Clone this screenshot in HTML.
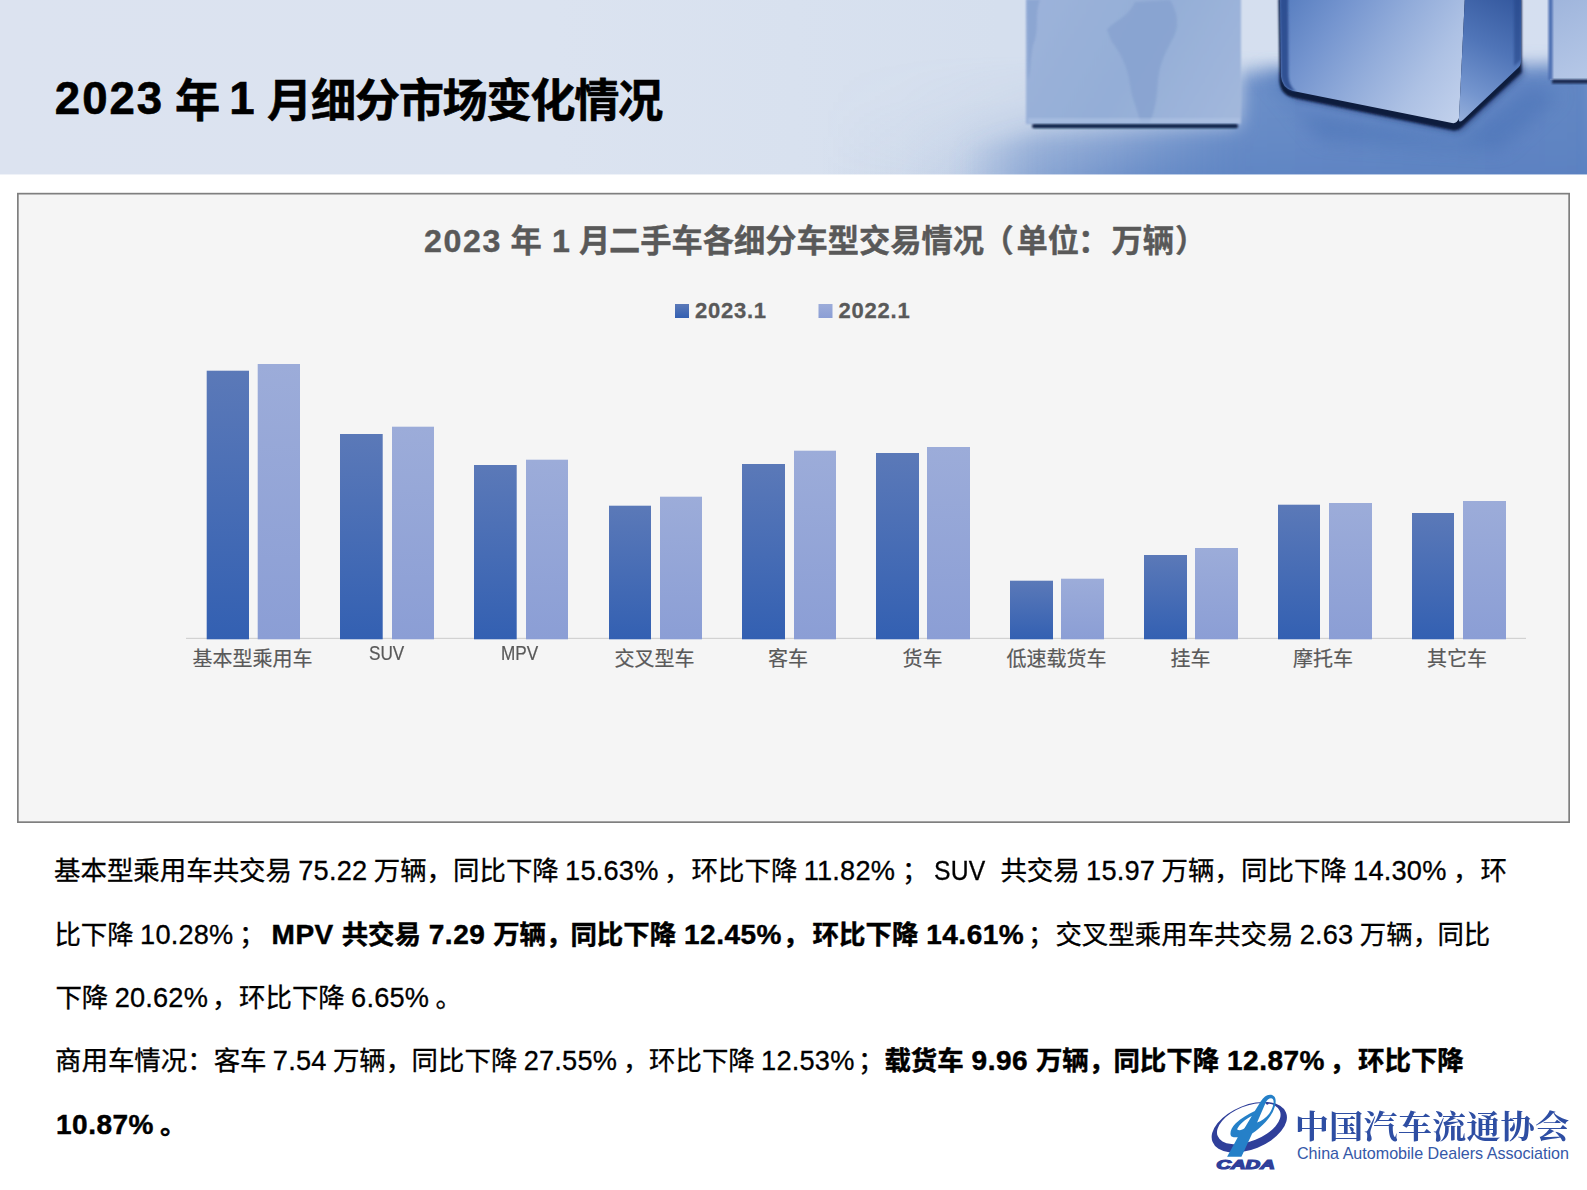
<!DOCTYPE html>
<html lang="zh-CN">
<head>
<meta charset="utf-8">
<title>2023 年 1 月细分市场变化情况</title>
<style>
html,body{margin:0;padding:0;}
body{width:1587px;height:1190px;position:relative;overflow:hidden;background:#fff;
  font-family:"Liberation Sans","Noto Sans CJK SC",sans-serif;color:#000;}
#hdr{position:absolute;left:0;top:0;width:1587px;height:175px;overflow:hidden;}
#hdr svg{position:absolute;left:0;top:0;}
#csvg{position:absolute;left:0;top:0;}
.s{position:absolute;white-space:pre;margin:0;padding:0;}
.t{font-size:45.2px;letter-spacing:-1.3px;line-height:64px;font-weight:700;color:#000;-webkit-text-stroke:.6px #000;}
.tn{font-size:45.6px;letter-spacing:2px;}
.ct{font-size:31.25px;line-height:48px;font-weight:700;color:#595959;-webkit-text-stroke:.4px #595959;}
.cn{font-size:32.2px;letter-spacing:1.6px;}
.lg{font-size:22px;line-height:26px;font-weight:700;color:#595959;letter-spacing:.75px;-webkit-text-stroke:.3px #595959;}
.c{font-size:20px;line-height:30px;color:#595959;-webkit-text-stroke:.2px #595959;}
.c.lat{font-size:19.5px;transform:scaleX(.88);transform-origin:0 50%;}
.p{font-size:26.45px;line-height:40px;height:40px;color:#000;word-spacing:-1px;-webkit-text-stroke:.3px #000;}
.p .n{font-size:27.2px;letter-spacing:.2px;}
.p .sq{display:inline-block;transform:scaleX(.91);transform-origin:0 50%;}
.b{font-weight:700;}
.p.b{word-spacing:.5px;-webkit-text-stroke:.45px #000;}
.p.b .n{font-size:28px;letter-spacing:.5px;}
.lcn{font-family:"Liberation Serif","Noto Serif CJK SC",serif;font-weight:700;font-size:34.3px;letter-spacing:0;line-height:50px;color:#2e4ea3;transform:scaleY(.915);transform-origin:0 0;}
.len{font-size:16.1px;line-height:24px;color:#3558a8;}
</style>
</head>
<body>
<div id="hdr"><svg width="1587" height="175" viewBox="0 0 1587 175">
<defs>
  <linearGradient id="gbase" x1="0" y1="0" x2="1587" y2="0" gradientUnits="userSpaceOnUse">
    <stop offset="0" stop-color="#dce3f0"/>
    <stop offset="0.35" stop-color="#dbe3f0"/>
    <stop offset="0.5" stop-color="#d8e1ef"/>
    <stop offset="0.63" stop-color="#d5dfee"/>
    <stop offset="1" stop-color="#d5dff0"/>
  </linearGradient>
  <linearGradient id="gfloorh" x1="820" y1="0" x2="1587" y2="0" gradientUnits="userSpaceOnUse">
    <stop offset="0" stop-color="#6388c5" stop-opacity="0"/>
    <stop offset="0.104" stop-color="#6388c5" stop-opacity="0.06"/>
    <stop offset="0.17" stop-color="#6388c5" stop-opacity="0.15"/>
    <stop offset="0.235" stop-color="#6388c5" stop-opacity="0.30"/>
    <stop offset="0.31" stop-color="#6388c5" stop-opacity="0.5"/>
    <stop offset="0.40" stop-color="#6287c5" stop-opacity="0.75"/>
    <stop offset="0.56" stop-color="#5f85c3" stop-opacity="1"/>
    <stop offset="1" stop-color="#5a80c0" stop-opacity="1"/>
  </linearGradient>
  <linearGradient id="gfloorv" x1="0" y1="55" x2="0" y2="175" gradientUnits="userSpaceOnUse">
    <stop offset="0" stop-color="#fff" stop-opacity="0"/>
    <stop offset="0.375" stop-color="#fff" stop-opacity="0.15"/>
    <stop offset="0.71" stop-color="#fff" stop-opacity="0.53"/>
    <stop offset="1" stop-color="#fff" stop-opacity="1"/>
  </linearGradient>
  <mask id="mfloor"><rect x="0" y="0" width="1587" height="175" fill="url(#gfloorv)"/></mask>
  <linearGradient id="gc1" x1="1026" y1="0" x2="1241" y2="124" gradientUnits="userSpaceOnUse">
    <stop offset="0" stop-color="#9db3da"/>
    <stop offset="0.5" stop-color="#94aed7"/>
    <stop offset="1" stop-color="#a3b8dc"/>
  </linearGradient>
  <linearGradient id="gc2l" x1="1285" y1="0" x2="1460" y2="120" gradientUnits="userSpaceOnUse">
    <stop offset="0" stop-color="#587ec0"/>
    <stop offset="0.25" stop-color="#7595cf"/>
    <stop offset="0.5" stop-color="#92acda"/>
    <stop offset="0.75" stop-color="#adc1e4"/>
    <stop offset="1" stop-color="#c2d1ec"/>
  </linearGradient>
  <linearGradient id="gc2r" x1="1521" y1="0" x2="1458" y2="125" gradientUnits="userSpaceOnUse">
    <stop offset="0" stop-color="#34589e"/>
    <stop offset="0.4" stop-color="#5075b8"/>
    <stop offset="0.75" stop-color="#7495ce"/>
    <stop offset="1" stop-color="#9ab3dd"/>
  </linearGradient>
  <linearGradient id="gfloorB" x1="960" y1="0" x2="1587" y2="0" gradientUnits="userSpaceOnUse">
    <stop offset="0" stop-color="#6388c5" stop-opacity="0"/>
    <stop offset="0.12" stop-color="#6388c5" stop-opacity="0.36"/>
    <stop offset="0.25" stop-color="#6388c5" stop-opacity="0.48"/>
    <stop offset="0.447" stop-color="#6086c4" stop-opacity="0.9"/>
    <stop offset="1" stop-color="#5b81c1" stop-opacity="0.95"/>
  </linearGradient>
  <linearGradient id="gc3" x1="1550" y1="0" x2="1587" y2="80" gradientUnits="userSpaceOnUse">
    <stop offset="0" stop-color="#9fb5dc"/><stop offset="1" stop-color="#b6c8e7"/>
  </linearGradient>
  <filter id="b2" x="-20%" y="-20%" width="140%" height="140%"><feGaussianBlur stdDeviation="1.2"/></filter>
  <filter id="b4" x="-20%" y="-20%" width="140%" height="140%"><feGaussianBlur stdDeviation="3"/></filter>
  <filter id="b10" x="-30%" y="-30%" width="160%" height="160%"><feGaussianBlur stdDeviation="9"/></filter>
</defs>
<rect width="1587" height="175" fill="url(#gbase)"/>
<rect x="820" y="0" width="767" height="175" fill="url(#gfloorh)" mask="url(#mfloor)"/>
<!-- soft shadows on floor -->
<path d="M950 150 L1035 134 L1241 128 L1241 72 L1600 64 L1600 190 L950 190 Z" fill="url(#gfloorB)" filter="url(#b10)"/>
<path d="M1262 70 L1285 70 L1300 110 L1460 140 L1530 85 L1560 95 L1500 150 L1320 140 Z" fill="#4a72b6" opacity="0.55" filter="url(#b10)"/>
<!-- cube 1 -->
<rect x="1026" y="-5" width="215" height="129" fill="url(#gc1)" filter="url(#b2)"/>
<path d="M1107 30 C1112 22 1128 18 1135 2 L1170 0 C1178 12 1180 28 1172 40 C1166 52 1160 62 1158 80 C1157 95 1156 108 1150 122 L1140 122 C1138 110 1132 100 1130 85 C1128 65 1118 50 1112 42 Z" fill="#86a1cf" opacity="0.75" filter="url(#b2)"/>
<path d="M1027 0 L1040 0 C1034 15 1040 30 1033 45 C1030 60 1031 70 1028 80 Z" fill="#86a1cf" opacity="0.7" filter="url(#b2)"/>
<rect x="1032" y="124" width="206" height="4.200" rx="2" fill="#0f2148" filter="url(#b2)"/>
<rect x="1028" y="118" width="212" height="5" fill="#b4c7e7" opacity="0.5" filter="url(#b2)"/>
<!-- cube 2 -->
<path d="M1281 70 L1283 88 L1296 99 L1452 131 Q1458 133 1464 128 L1523 74 L1521 60 L1458 118 L1300 88 Z" fill="#1a336c" opacity="0.65" filter="url(#b4)"/>
<path d="M1279 -5 L1280 78 Q1281 91 1293 94 L1452 126.5 Q1458 128 1463 123 L1522 69 L1522 -5 Z" fill="#0c1a3e" filter="url(#b2)" transform="translate(-0.5,3.6)"/>
<path d="M1280 -5 L1281 76 Q1282 88 1293 91 L1452 123 Q1457 124 1459 118 L1465 -5 Z" fill="url(#gc2l)"/>
<path d="M1465 -5 L1459 118 Q1458 124 1463 120 L1519 67 Q1521 65 1521 60 L1521 -5 Z" fill="url(#gc2r)"/>
<path d="M1280 -5 L1281 76 Q1282 88 1293 91 L1296 91.6 Q1289 86 1288.500 76 L1288 -5 Z" fill="#27468a" opacity="0.85" filter="url(#b2)"/>
<path d="M1514 -5 L1514 66 L1521 60 L1521 -5 Z" fill="#27468a" opacity="0.6" filter="url(#b2)"/>
<!-- cube 3 -->
<rect x="1550" y="-5" width="40" height="85" fill="url(#gc3)"/>
<rect x="1552" y="79.5" width="40" height="4" fill="#13254c" filter="url(#b2)"/>
<rect x="1548.500" y="-5" width="4" height="85" fill="#4a6db0" filter="url(#b2)"/>
<rect x="0" y="174.450" width="1587" height="1" fill="#fff"/>
</svg>
</div>
<svg id="csvg" width="1587" height="1190" viewBox="0 0 1587 1190">
<defs><linearGradient id="gd" x1="0" y1="0" x2="0" y2="1"><stop offset="0" stop-color="#5b79b8"/><stop offset="1" stop-color="#3360b2"/></linearGradient>
<linearGradient id="gl" x1="0" y1="0" x2="0" y2="1"><stop offset="0" stop-color="#9cacd9"/><stop offset="1" stop-color="#8b9ed5"/></linearGradient></defs>
<rect x="17.85" y="193.65" width="1551.3" height="628.5" fill="#f5f5f5" stroke="#7f7f7f" stroke-width="1.7"/>
<rect x="186" y="637.8" width="1340" height="1.2" fill="#d2d2d2"/>
<rect x="206.7" y="370.7" width="42.3" height="268.6" fill="url(#gd)"/>
<rect x="257.7" y="364" width="42.3" height="275.3" fill="url(#gl)"/>
<rect x="340" y="434" width="42.7" height="205.3" fill="url(#gd)"/>
<rect x="392" y="426.7" width="42.0" height="212.6" fill="url(#gl)"/>
<rect x="474" y="465" width="42.7" height="174.3" fill="url(#gd)"/>
<rect x="526" y="459.7" width="42.0" height="179.6" fill="url(#gl)"/>
<rect x="609" y="505.7" width="42.0" height="133.6" fill="url(#gd)"/>
<rect x="660" y="496.7" width="42.0" height="142.6" fill="url(#gl)"/>
<rect x="742" y="464" width="43.0" height="175.3" fill="url(#gd)"/>
<rect x="794" y="450.7" width="42.0" height="188.6" fill="url(#gl)"/>
<rect x="876" y="453" width="43.0" height="186.3" fill="url(#gd)"/>
<rect x="927" y="447" width="43.0" height="192.3" fill="url(#gl)"/>
<rect x="1010" y="580.7" width="43.0" height="58.6" fill="url(#gd)"/>
<rect x="1061" y="578.7" width="43.0" height="60.6" fill="url(#gl)"/>
<rect x="1144" y="555" width="43.0" height="84.3" fill="url(#gd)"/>
<rect x="1195" y="548" width="43.0" height="91.3" fill="url(#gl)"/>
<rect x="1278" y="504.7" width="42.0" height="134.6" fill="url(#gd)"/>
<rect x="1329" y="503" width="43.0" height="136.3" fill="url(#gl)"/>
<rect x="1412" y="513" width="42.0" height="126.3" fill="url(#gd)"/>
<rect x="1463" y="501" width="43.0" height="138.3" fill="url(#gl)"/>
<rect x="675" y="304" width="14" height="14" fill="url(#gd)"/>
<rect x="818.5" y="304" width="14" height="14" fill="url(#gl)"/>
</svg>
<svg id="logo" width="100" height="95" viewBox="0 0 1322.5 1256.4" style="position:absolute;left:1200px;top:1085px">
<g>
  <!-- ring: outer ellipse minus inner ellipse -->
  <path fill="#2f3f9a" fill-rule="evenodd" d="
    M 167.1 753.9 A 523 289 -22 1 1 1136.9 362.1 A 523 289 -22 1 1 167.1 753.9 Z
    M 234.3 676.0 A 443 230 -22 1 1 1055.7 344.0 A 443 230 -22 1 1 234.3 676.0 Z"/>
  <!-- light blue phi shape -->
  <path fill="#2580c8" fill-rule="evenodd" d="
    M 358 948 L 548 950 L 690 640
    C 800 570 900 470 960 360
    C 1000 280 1015 200 985 155
    C 965 128 925 122 890 135
    C 850 150 810 200 770 270
    L 725 345
    C 640 385 540 440 470 510
    C 420 560 395 620 405 660
    C 412 690 450 695 500 690 Z
    M 755 495 L 868 235
    C 885 195 935 160 962 185
    C 990 215 965 310 915 380
    C 870 440 810 478 755 495 Z
    M 490 585 C 520 520 600 450 685 410
    L 590 570 C 560 600 510 610 490 585 Z"/>
  <circle cx="890" cy="243" r="18" fill="#2f3f9a"/>
</g>
<text x="215" y="1117" font-family="'Liberation Sans',sans-serif" font-weight="700" font-style="italic" font-size="172" fill="#2f3f9a" textLength="775" lengthAdjust="spacingAndGlyphs" stroke="#2f3f9a" stroke-width="16">CADA</text>
</svg>

<span class="s t" style="left:54.80px;top:66.5px"><span class="tn">2023</span></span>
<span class="s t" style="left:175.00px;top:69.5px">年</span>
<span class="s t" style="left:229.20px;top:66.5px"><span class="tn">1</span></span>
<span class="s t" style="left:267.00px;top:69.5px">月细分市场变化情况</span>
<span class="s ct" style="left:424.00px;top:216.7px"><span class="cn">2023</span></span>
<span class="s ct" style="left:510.40px;top:218px">年</span>
<span class="s ct" style="left:552.00px;top:216.7px"><span class="cn">1</span></span>
<span class="s ct" style="left:579.00px;top:218px">月</span>
<span class="s ct" style="left:609.00px;top:218px">二手车各细分车型交易情况</span>
<span class="s ct" style="left:982.60px;top:218px">（</span>
<span class="s ct" style="left:1016.60px;top:218px">单位</span>
<span class="s ct" style="left:1078.00px;top:218px">：</span>
<span class="s ct" style="left:1111.40px;top:218px">万辆</span>
<span class="s ct" style="left:1175.00px;top:218px">）</span>
<span class="s lg" style="left:695.00px;top:298px">2023.1</span>
<span class="s lg" style="left:838.60px;top:298px">2022.1</span>
<span class="s c" style="left:192.60px;top:643.6px">基本型乘用车</span>
<span class="s c lat" style="left:369.00px;top:638.3px">SUV</span>
<span class="s c lat" style="left:501.40px;top:638.3px">MPV</span>
<span class="s c" style="left:614.60px;top:643.6px">交叉型车</span>
<span class="s c" style="left:768.00px;top:643.6px">客车</span>
<span class="s c" style="left:902.60px;top:643.6px">货车</span>
<span class="s c" style="left:1006.60px;top:643.6px">低速载货车</span>
<span class="s c" style="left:1170.60px;top:643.6px">挂车</span>
<span class="s c" style="left:1293.00px;top:643.6px">摩托车</span>
<span class="s c" style="left:1427.00px;top:643.6px">其它车</span>
<span class="s p" style="left:54.00px;top:851px">基本型乘用车共交易 <span class="n">75.22</span> 万辆，同比下降 <span class="n">15.63%</span></span>
<span class="s p" style="left:664.00px;top:851px">，</span>
<span class="s p" style="left:691.60px;top:851px">环比下降 <span class="n">11.82%</span></span>
<span class="s p" style="left:902.00px;top:851px">；</span>
<span class="s p" style="left:934.40px;top:851px"><span class="n sq">SUV</span></span>
<span class="s p" style="left:1000.40px;top:851px">共交易 <span class="n">15.97</span> 万辆，</span>
<span class="s p" style="left:1241.00px;top:851px">同比下降 <span class="n">14.30%</span></span>
<span class="s p" style="left:1453.00px;top:851px">，</span>
<span class="s p" style="left:1480.40px;top:851px">环</span>
<span class="s p" style="left:54.40px;top:915.2px">比下降 <span class="n">10.28%</span></span>
<span class="s p" style="left:239.00px;top:915.2px">；</span>
<span class="s p b" style="left:271.60px;top:915.2px"><span class="n">MPV</span> 共交易 <span class="n">7.29</span> 万辆，</span>
<span class="s p b" style="left:570.40px;top:915.2px">同比下降 <span class="n">12.45%</span></span>
<span class="s p b" style="left:783.00px;top:915.2px">，</span>
<span class="s p b" style="left:812.60px;top:915.2px">环比下降 <span class="n">14.61%</span></span>
<span class="s p" style="left:1028.00px;top:915.2px">；</span>
<span class="s p" style="left:1055.40px;top:915.2px">交叉型乘用车共交易 <span class="n">2.63</span> 万辆，</span>
<span class="s p" style="left:1437.40px;top:915.2px">同比</span>
<span class="s p" style="left:55.40px;top:977.6px">下降 <span class="n">20.62%</span></span>
<span class="s p" style="left:212.00px;top:977.6px">，</span>
<span class="s p" style="left:239.00px;top:977.6px">环比下降 <span class="n">6.65%</span></span>
<span class="s p" style="left:435.40px;top:977.6px">。</span>
<span class="s p" style="left:55.00px;top:1041px">商用车情况：客车 <span class="n">7.54</span> 万辆，</span>
<span class="s p" style="left:411.60px;top:1041px">同比下降 <span class="n">27.55%</span></span>
<span class="s p" style="left:623.00px;top:1041px">，</span>
<span class="s p" style="left:649.00px;top:1041px">环比下降 <span class="n">12.53%</span></span>
<span class="s p" style="left:858.00px;top:1041px">；</span>
<span class="s p b" style="left:884.40px;top:1041px">载货车 <span class="n">9.96</span> 万辆，</span>
<span class="s p b" style="left:1113.40px;top:1041px">同比下降 <span class="n">12.87%</span></span>
<span class="s p b" style="left:1329.60px;top:1041px">，</span>
<span class="s p b" style="left:1358.00px;top:1041px">环比下降</span>
<span class="s p b" style="left:56.00px;top:1105px"><span class="n">10.87%</span></span>
<span class="s p b" style="left:160.00px;top:1105px">。</span>
<span class="s lcn" style="left:1294.80px;top:1104.2px">中国汽车流通协会</span>
<span class="s len" style="left:1297.00px;top:1141px">China Automobile Dealers Association</span>

</body>
</html>
